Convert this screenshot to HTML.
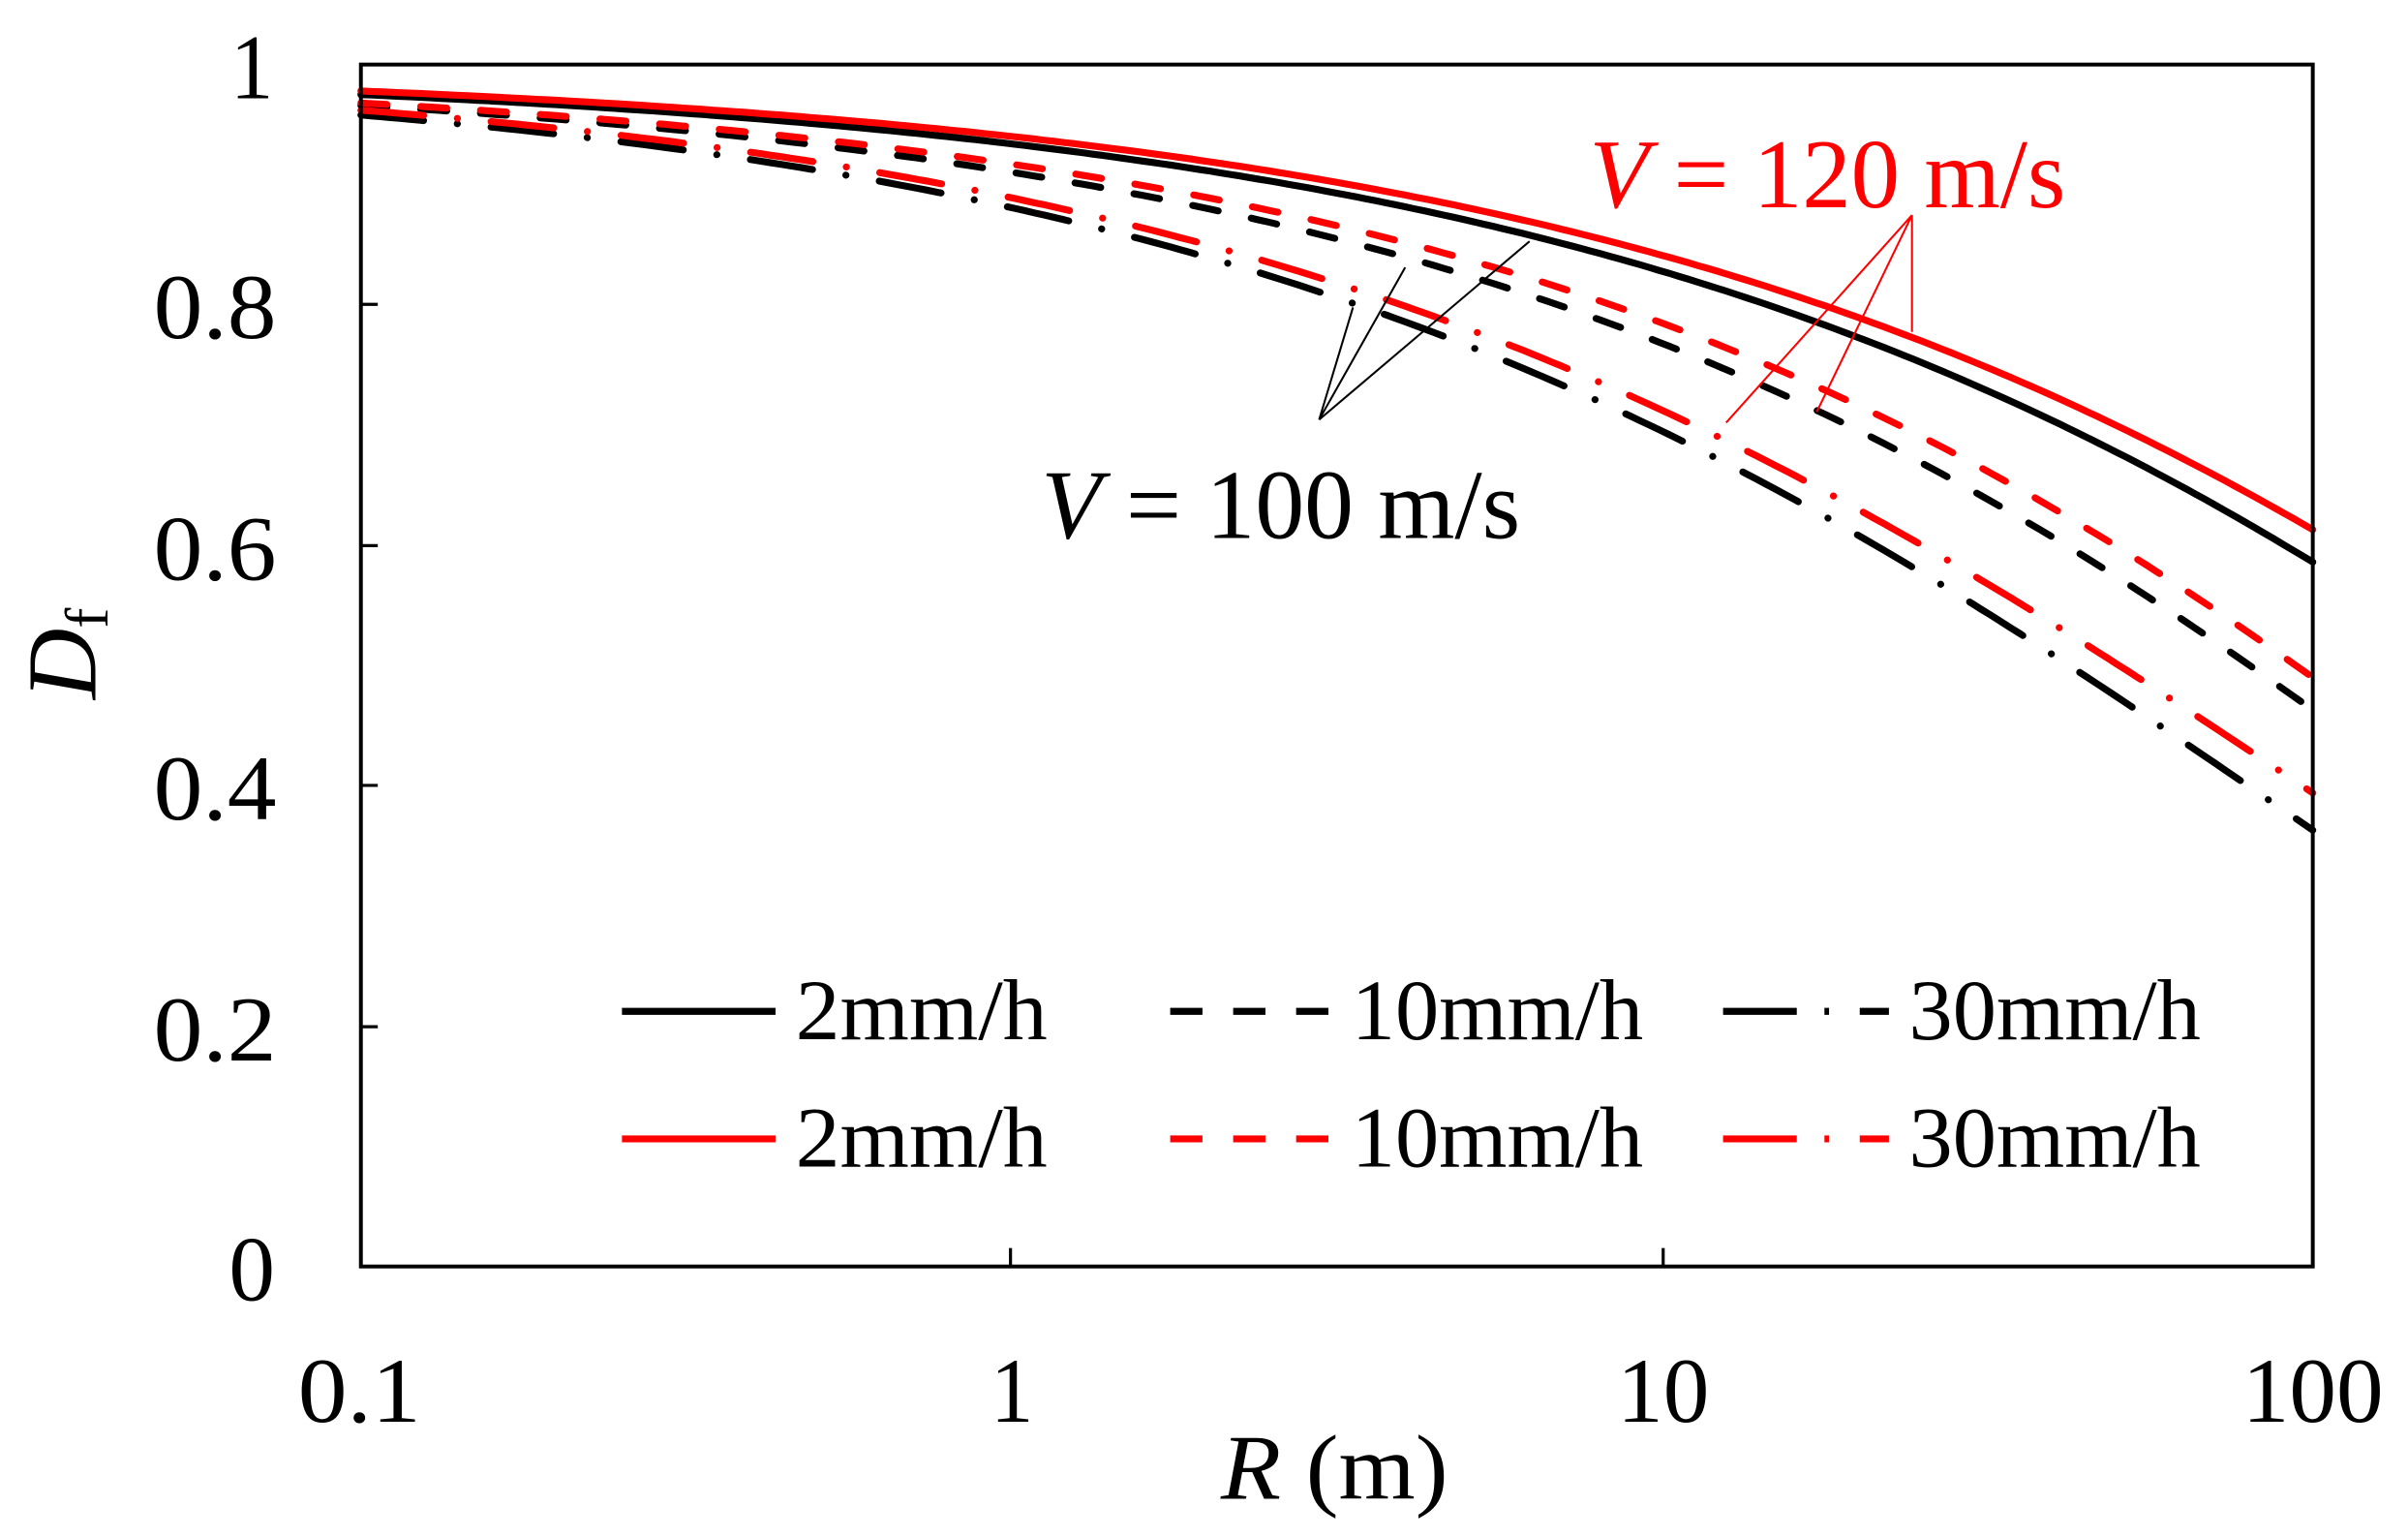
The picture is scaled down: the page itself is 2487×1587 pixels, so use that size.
<!DOCTYPE html>
<html><head><meta charset="utf-8"><style>
html,body{margin:0;padding:0;background:#fff;}
svg{display:block;}
text{font-family:"Liberation Serif","Times New Roman",serif;}
</style></head><body>
<svg id="s" width="2487" height="1587" viewBox="0 0 1568 1000" preserveAspectRatio="none" xmlns="http://www.w3.org/2000/svg" font-family="Liberation Serif, Times New Roman, serif">
<rect width="1568" height="1000" fill="#fff"/>
<g id="curves" fill="none" stroke-width="4.5" stroke-linecap="round"></g>
<g stroke="#000" stroke-width="1.3" fill="none">
<polyline points="881,200 859,273 915,174"/>
<polyline points="859,273 996,157"/>
</g>
<g stroke="#f00" stroke-width="1.3" fill="none">
<polyline points="1124,275 1245,140 1183,268"/>
<polyline points="1245,140 1245,216"/>
</g>
<rect x="235" y="42" width="1271" height="782" fill="none" stroke="#000" stroke-width="2.5"/>
<g stroke="#000" stroke-width="2">
<line x1="235" y1="668" x2="246" y2="668"/><line x1="235" y1="511" x2="246" y2="511"/>
<line x1="235" y1="355" x2="246" y2="355"/><line x1="235" y1="198" x2="246" y2="198"/>
<line x1="658" y1="824" x2="658" y2="812"/><line x1="1083" y1="824" x2="1083" y2="812"/>
</g>
<g font-size="60" fill="#000">
<text x="149" y="846" textLength="30" lengthAdjust="spacingAndGlyphs">0</text>
<text x="100" y="690" textLength="80" lengthAdjust="spacingAndGlyphs">0.2</text>
<text x="100" y="533" textLength="80" lengthAdjust="spacingAndGlyphs">0.4</text>
<text x="100" y="377" textLength="80" lengthAdjust="spacingAndGlyphs">0.6</text>
<text x="100" y="220" textLength="80" lengthAdjust="spacingAndGlyphs">0.8</text>
<text x="150" y="64" textLength="28" lengthAdjust="spacingAndGlyphs">1</text>
<text x="194" y="925" textLength="80" lengthAdjust="spacingAndGlyphs">0.1</text>
<text x="645" y="925" textLength="28" lengthAdjust="spacingAndGlyphs">1</text>
<text x="1053" y="925" textLength="60" lengthAdjust="spacingAndGlyphs">10</text>
<text x="1460" y="925" textLength="92" lengthAdjust="spacingAndGlyphs">100</text>
<text x="795" y="975" textLength="148" lengthAdjust="spacingAndGlyphs"><tspan font-style="italic">R</tspan> (m)</text>
</g>
<text transform="translate(62,455) rotate(-90)" font-size="64"><tspan font-style="italic">D</tspan><tspan font-size="40" dy="8">f</tspan></text>
<text x="1035" y="135" font-size="64" fill="#f00" textLength="310" lengthAdjust="spacingAndGlyphs"><tspan font-style="italic">V</tspan> = 120 m/s</text>
<text x="678" y="350" font-size="64" fill="#000" textLength="312" lengthAdjust="spacingAndGlyphs"><tspan font-style="italic">V</tspan> = 100 m/s</text>
<g stroke-width="4.5">
<line x1="405" y1="658" x2="505" y2="658" stroke="#000"/>
<line x1="762" y1="658" x2="866" y2="658" stroke="#000" stroke-dasharray="21 20"/>
<line x1="1122" y1="658" x2="1230" y2="658" stroke="#000" stroke-dasharray="48 18 3 20 19"/>
<line x1="405" y1="741" x2="505" y2="741" stroke="#f00"/>
<line x1="762" y1="741" x2="866" y2="741" stroke="#f00" stroke-dasharray="21 20"/>
<line x1="1122" y1="741" x2="1230" y2="741" stroke="#f00" stroke-dasharray="48 18 3 20 19"/>
</g>
<g font-size="56" fill="#000">
<text x="518" y="676" textLength="164" lengthAdjust="spacingAndGlyphs">2mm/h</text>
<text x="880" y="676" textLength="190" lengthAdjust="spacingAndGlyphs">10mm/h</text>
<text x="1243" y="676" textLength="190" lengthAdjust="spacingAndGlyphs">30mm/h</text>
<text x="518" y="759" textLength="164" lengthAdjust="spacingAndGlyphs">2mm/h</text>
<text x="880" y="759" textLength="190" lengthAdjust="spacingAndGlyphs">10mm/h</text>
<text x="1243" y="759" textLength="190" lengthAdjust="spacingAndGlyphs">30mm/h</text>
</g>
</svg>
<script>
var series=[
["#000",[.975,.893,.586],""],
["#f00",[.978,.902,.613],""],
["#000",[.966,.855,.463],"17 22"],
["#f00",[.968,.866,.49],"17 22"],
["#000",[.958,.806,.363],"41 22 0.1 22"],
["#f00",[.962,.818,.394],"41 22 0.1 22"]];
var X=[-1,0.5,2];
var g=document.getElementById("curves"),out="";
series.forEach(function(s){
 var Y=s[1].map(function(d){return Math.log(-Math.log(d));});
 function f(x){var r=0;for(var i=0;i<3;i++){var t=Y[i];for(var j=0;j<3;j++)if(j!=i)t*=(x-X[j])/(X[i]-X[j]);r+=t;}return r;}
 var d="";for(var i=0;i<=200;i++){var lx=-1+3*i/200;var D=Math.exp(-Math.exp(f(lx)));
 var x=235+(lx+1)*423.67,y=824-D*782;d+=(i?"L":"M")+x.toFixed(1)+","+y.toFixed(1);}
 out+='<path d="'+d+'" stroke="'+s[0]+'"'+(s[2]?' stroke-dasharray="'+s[2]+'"':'')+'/>';
});
g.innerHTML=out;
</script>
</body></html>
